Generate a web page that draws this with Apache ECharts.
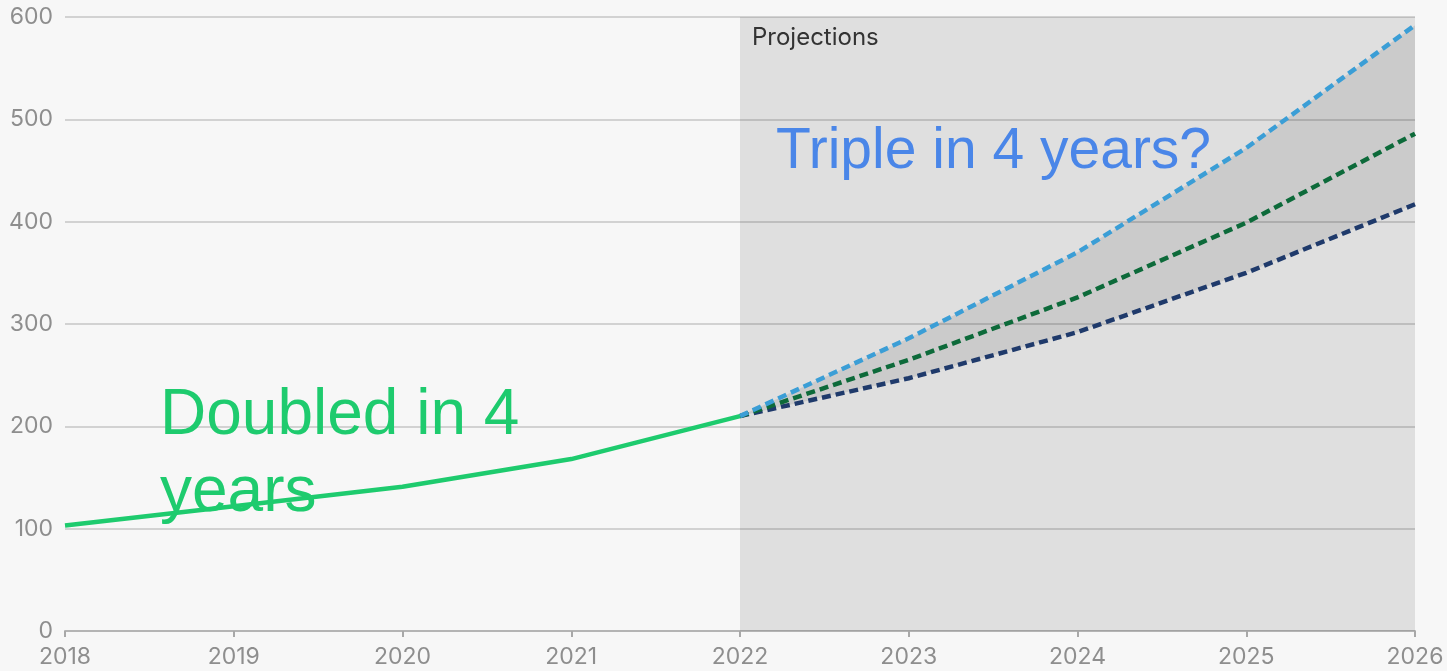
<!DOCTYPE html>
<html>
<head>
<meta charset="utf-8">
<script src="https://cdn.jsdelivr.net/npm/echarts@6/dist/echarts.min.js"></script>
<style>
  html, body { margin: 0; padding: 0; background: #f7f7f7; }
  #main { width: 1447px; height: 671px; }
</style>
</head>
<body>
<div id="main"></div>
<script>
// years on the x axis
const years = ['2018', '2019', '2020', '2021', '2022', '2023', '2024', '2025', '2026'];
// history up to 2022 (null afterwards)
const actual = [103, 122, 141, 168, 210, null, null, null, null];
// projections start at the 2022 value
const projHigh = [null, null, null, null, 210, 286, 370, 472, 592];
const projMid = [null, null, null, null, 210, 265, 326, 399, 486];
const projLow = [null, null, null, null, 210, 247, 292, 350, 417];
const yTicks = [0, 100, 200, 300, 400, 500, 600];

// band between low and high, stacked on top of low
const bandSize = projHigh.map((v, i) => (v == null ? null : v - projLow[i]));

const dash = { type: [9, 5] };

const option = {
  backgroundColor: '#f7f7f7',
  animation: false,
  grid: { left: 65, right: 32, top: 17, bottom: 40 },
  xAxis: {
    type: 'category',
    data: years,
    boundaryGap: false,
    axisLine: { lineStyle: { color: '#b4b4b4', width: 2 } },
    axisTick: { alignWithLabel: true, length: 6, lineStyle: { color: '#a8a8a8', width: 2 } },
    axisLabel: { color: '#8e8e8e', fontSize: 23, fontFamily: 'Inter', margin: 15 }
  },
  yAxis: {
    type: 'value',
    min: yTicks[0],
    max: yTicks[yTicks.length - 1],
    interval: 100,
    axisLine: { show: false },
    axisTick: { show: false },
    axisLabel: { color: '#8e8e8e', fontSize: 23, fontFamily: 'Inter', margin: 12 },
    splitLine: { lineStyle: { color: 'rgba(0,0,0,0.15)', width: 2 } }
  },
  series: [
    {
      name: 'bandBase',
      type: 'line',
      stack: 'band',
      data: projLow,
      symbol: 'none',
      lineStyle: { opacity: 0 },
      silent: true,
      markArea: {
        silent: true,
        itemStyle: { color: 'rgba(0,0,0,0.095)' },
        label: {
          show: true, position: 'insideTopLeft', color: '#333', fontSize: 24,
          fontFamily: 'Inter', distance: 9, offset: [3, 0]
        },
        data: [[{ name: 'Projections', xAxis: '2022' }, { xAxis: '2026' }]]
      }
    },
    {
      name: 'band',
      type: 'line',
      stack: 'band',
      data: bandSize,
      symbol: 'none',
      lineStyle: { opacity: 0 },
      areaStyle: { color: 'rgba(0,0,0,0.085)', opacity: 1 },
      silent: true
    },
    {
      name: 'Low',
      type: 'line',
      data: projLow,
      symbol: 'none',
      lineStyle: Object.assign({ color: '#1f3a6b', width: 4.5 }, dash)
    },
    {
      name: 'Mid',
      type: 'line',
      data: projMid,
      symbol: 'none',
      lineStyle: Object.assign({ color: '#0d6a3a', width: 4.5 }, dash)
    },
    {
      name: 'High',
      type: 'line',
      data: projHigh,
      symbol: 'none',
      lineStyle: Object.assign({ color: '#3b9ed6', width: 4.5 }, dash)
    },
    {
      name: 'Actual',
      type: 'line',
      data: actual,
      symbol: 'none',
      lineStyle: { color: '#1ecb6e', width: 4.5 }
    }
  ],
  graphic: [
    {
      type: 'text', left: 160, top: 378, z: 100,
      style: {
        text: 'Doubled in 4\nyears', fill: '#1ecb6e', fontSize: 64,
        fontFamily: 'Liberation Sans', lineHeight: 77
      }
    },
    {
      type: 'text', left: 776, top: 124, z: 100,
      style: {
        text: 'Triple in 4 years?', fill: '#4a86e8', fontSize: 57,
        fontFamily: 'Liberation Sans'
      }
    }
  ]
};

echarts.init(document.getElementById('main')).setOption(option);
</script>
</body>
</html>
